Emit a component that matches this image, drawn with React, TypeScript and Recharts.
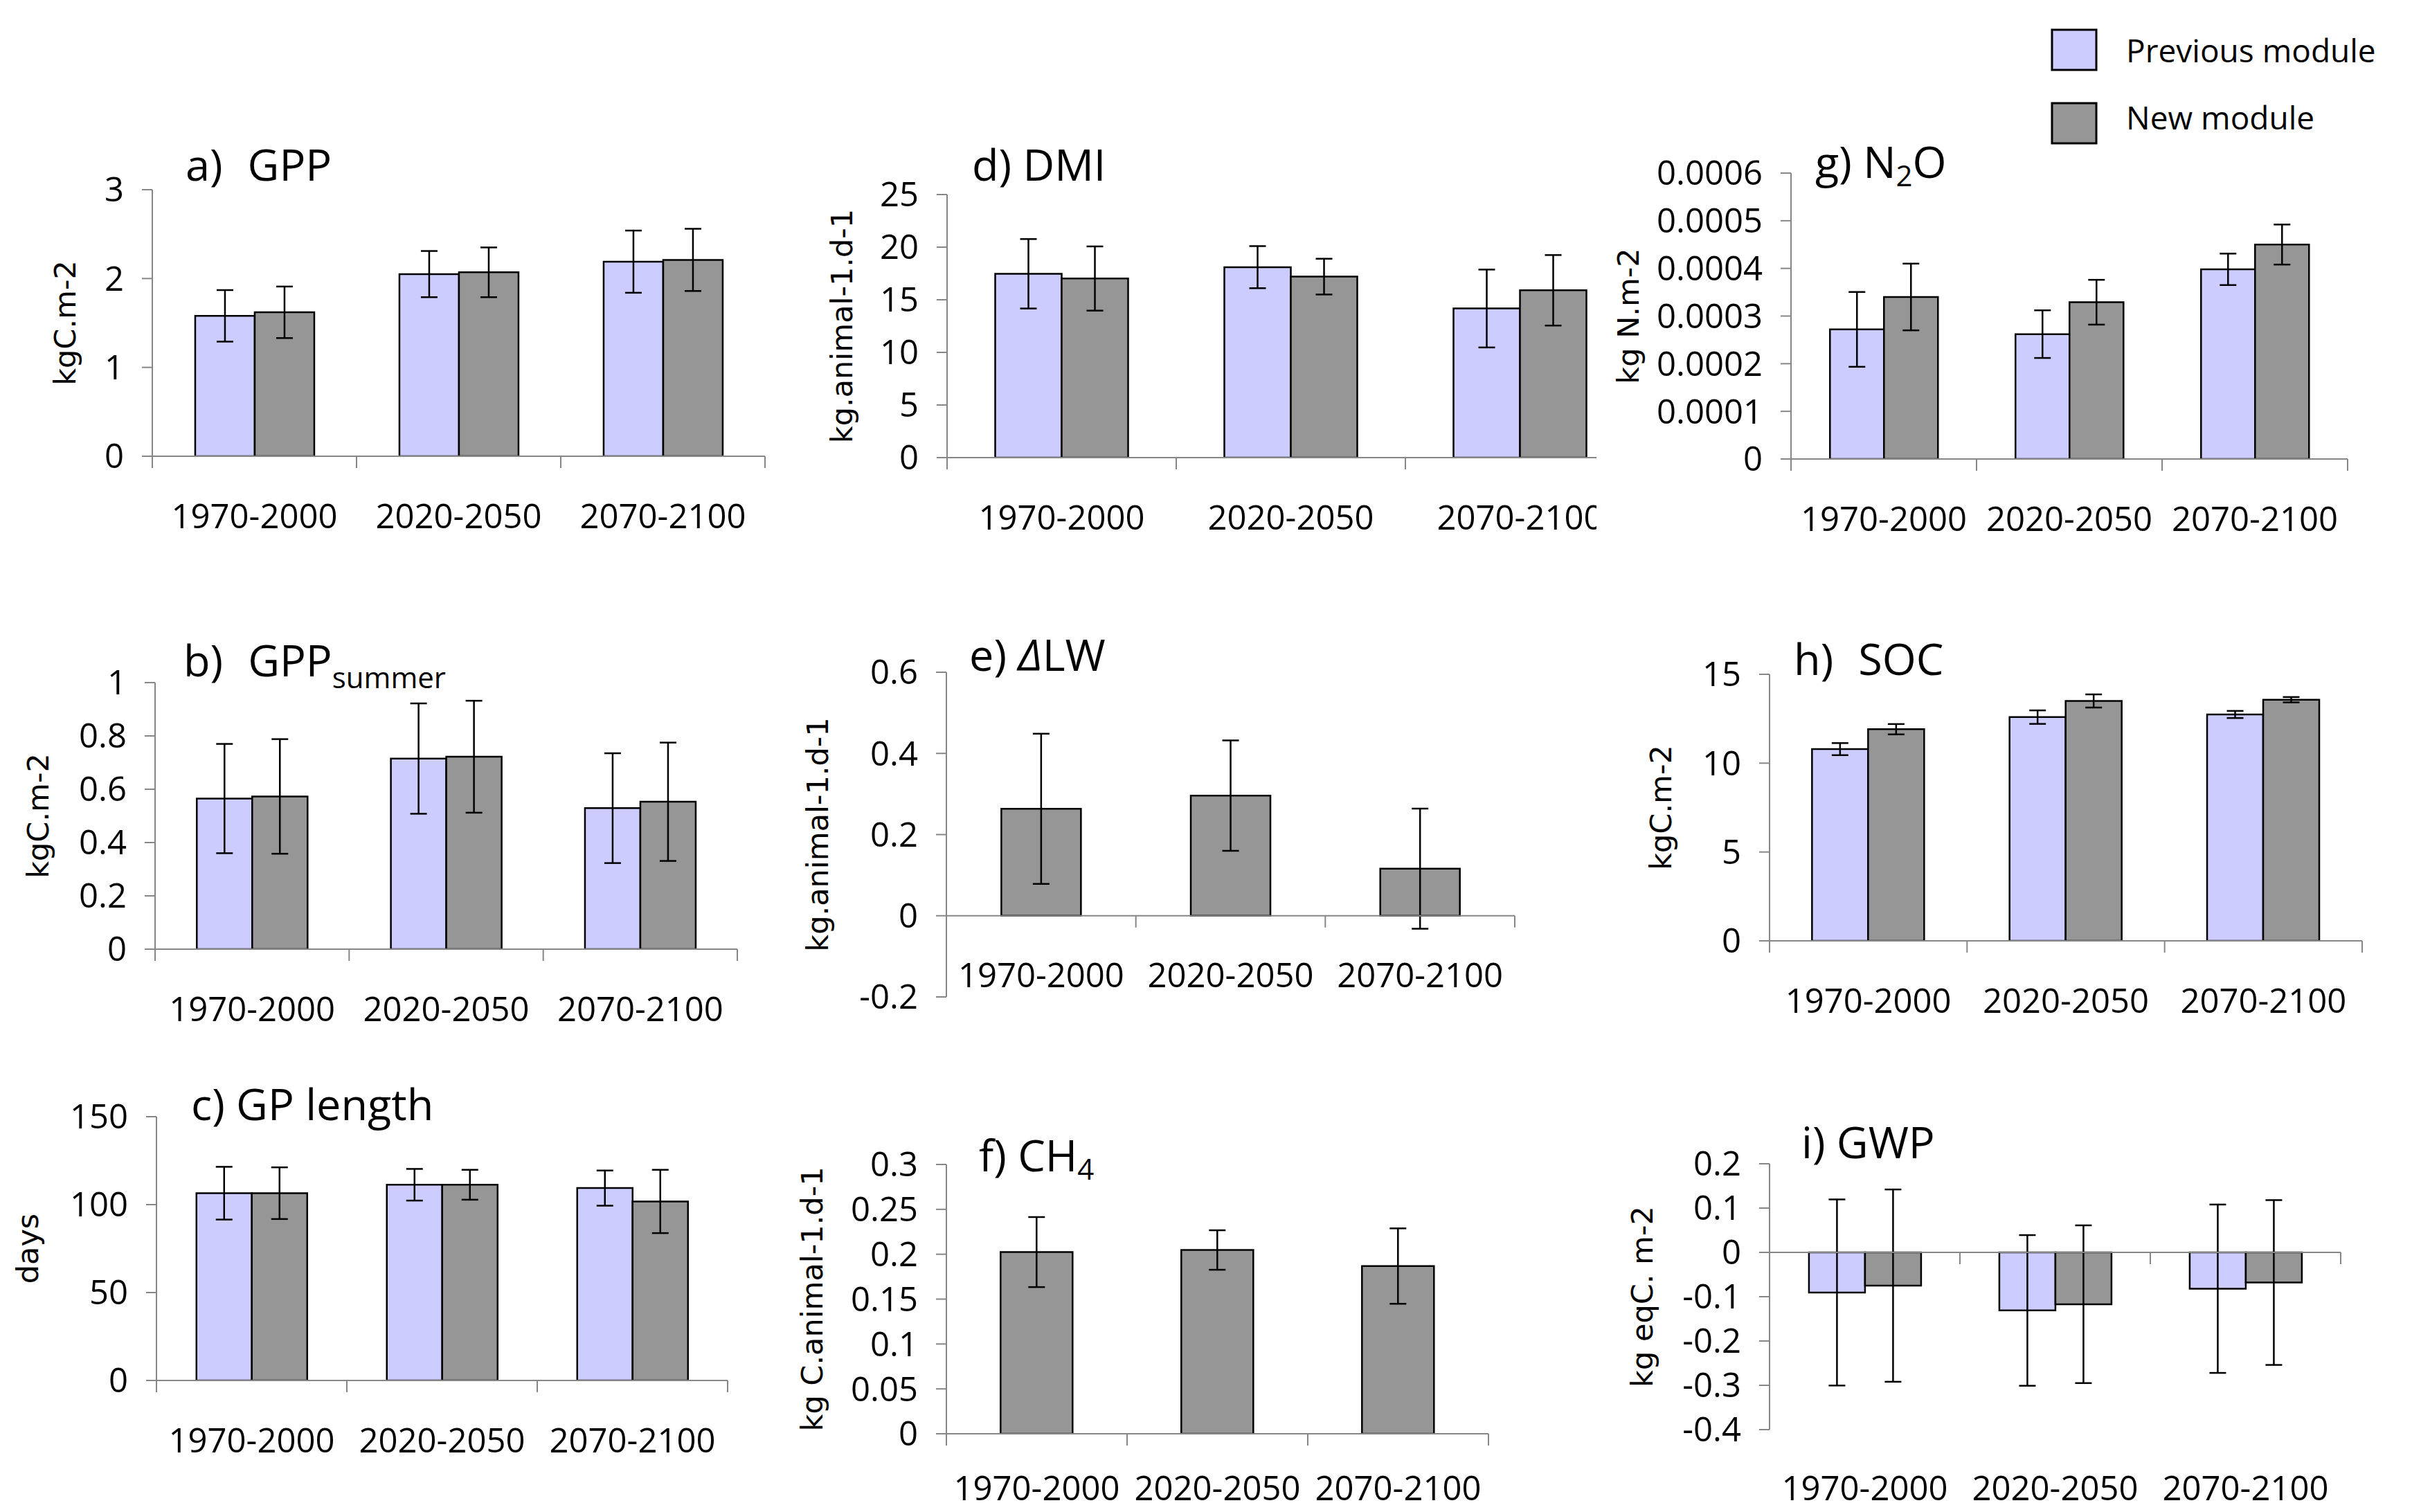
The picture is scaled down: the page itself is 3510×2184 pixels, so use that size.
import React from "react";
import { BarChart, Bar, XAxis, YAxis, ErrorBar, ReferenceLine } from "recharts";

const PERIODS = ["1970-2000", "2020-2050", "2070-2100"];
const SERIES_NAMES = ["Previous module", "New module"];

// a) GPP
const GPP_PREV = [1.58, 2.05, 2.19];
const GPP_PREV_ERR = [0.29, 0.26, 0.35];
const GPP_NEW = [1.62, 2.07, 2.21];
const GPP_NEW_ERR = [0.29, 0.28, 0.35];
const GPP_TICKS = [0, 1, 2, 3];

// b) GPP summer
const GPPS_PREV = [0.565, 0.715, 0.529];
const GPPS_PREV_ERR = [0.205, 0.207, 0.206];
const GPPS_NEW = [0.573, 0.722, 0.553];
const GPPS_NEW_ERR = [0.215, 0.21, 0.222];
const GPPS_TICKS = [0, 0.2, 0.4, 0.6, 0.8, 1];

// c) GP length
const GPL_PREV = [106.5, 111.3, 109.4];
const GPL_PREV_ERR = [15, 9, 10];
const GPL_NEW = [106.5, 111.3, 101.8];
const GPL_NEW_ERR = [14.7, 8.5, 18];
const GPL_TICKS = [0, 50, 100, 150];

// d) DMI
const DMI_PREV = [17.47, 18.1, 14.17];
const DMI_PREV_ERR = [3.3, 2.0, 3.7];
const DMI_NEW = [17.02, 17.2, 15.9];
const DMI_NEW_ERR = [3.05, 1.7, 3.35];
const DMI_TICKS = [0, 5, 10, 15, 20, 25];

// e) delta LW (new module only)
const DLW_NEW = [0.2635, 0.296, 0.116];
const DLW_NEW_ERR = [0.185, 0.136, 0.148];
const DLW_TICKS = [-0.2, 0, 0.2, 0.4, 0.6];

// f) CH4 (new module only)
const CH4_NEW = [0.2024, 0.2047, 0.1868];
const CH4_NEW_ERR = [0.039, 0.022, 0.042];
const CH4_TICKS = [0, 0.05, 0.1, 0.15, 0.2, 0.25, 0.3];

// g) N2O
const N2O_PREV = [0.000272, 0.000262, 0.000398];
const N2O_PREV_ERR = [0.0000785, 0.00005, 0.000033];
const N2O_NEW = [0.00034, 0.000329, 0.00045];
const N2O_NEW_ERR = [0.00007, 0.000047, 0.000042];
const N2O_TICKS = [0, 0.0001, 0.0002, 0.0003, 0.0004, 0.0005, 0.0006];

// h) SOC
const SOC_PREV = [10.79, 12.59, 12.74];
const SOC_PREV_ERR = [0.34, 0.38, 0.2];
const SOC_NEW = [11.91, 13.5, 13.57];
const SOC_NEW_ERR = [0.29, 0.37, 0.15];
const SOC_TICKS = [0, 5, 10, 15];

// i) GWP
const GWP_PREV = [-0.0905, -0.131, -0.082];
const GWP_PREV_ERR = [0.21, 0.17, 0.19];
const GWP_NEW = [-0.075, -0.117, -0.068];
const GWP_NEW_ERR = [0.217, 0.178, 0.186];
const GWP_TICKS = [-0.4, -0.3, -0.2, -0.1, 0, 0.1, 0.2];

const FONT = "'Open Sans', 'Liberation Sans', sans-serif";
const LABEL_FONT = "'DejaVu Sans', Verdana, sans-serif";
const AXIS = "#868686";
const PREV_FILL = "#CCCCFF";
const NEW_FILL = "#969696";
const YW_MAX = 280;
const MT = 50;
const MR = 20;
const XH = 160;
const TICK_FS = 49;

// plot boxes (axis origin / ends) for each panel, in page pixels
const PANELS = [
  { key: "a", unit: "kgC.m-2", prev: GPP_PREV, prevErr: GPP_PREV_ERR, nw: GPP_NEW, nwErr: GPP_NEW_ERR, ticks: GPP_TICKS, x0: 220, x1: 1105, yTop: 274, yBot: 659, labelCx: 94, gap: "21%" },
  { key: "b", unit: "kgC.m-2", prev: GPPS_PREV, prevErr: GPPS_PREV_ERR, nw: GPPS_NEW, nwErr: GPPS_NEW_ERR, ticks: GPPS_TICKS, x0: 224, x1: 1065, yTop: 986, yBot: 1371, labelCx: 55, gap: "21.5%" },
  { key: "c", unit: "days", prev: GPL_PREV, prevErr: GPL_PREV_ERR, nw: GPL_NEW, nwErr: GPL_NEW_ERR, ticks: GPL_TICKS, x0: 226, x1: 1051, yTop: 1613, yBot: 1994, labelCx: 40, gap: "21%" },
  { key: "d", unit: "kg.animal-1.d-1", prev: DMI_PREV, prevErr: DMI_PREV_ERR, nw: DMI_NEW, nwErr: DMI_NEW_ERR, ticks: DMI_TICKS, x0: 1368, x1: 2361, yTop: 281, yBot: 661, labelCx: 1216, gap: "21%", clipAt: 2306 },
  { key: "e", unit: "kg.animal-1.d-1", nw: DLW_NEW, nwErr: DLW_NEW_ERR, ticks: DLW_TICKS, x0: 1367, x1: 2188, yTop: 971, yBot: 1440, labelCx: 1181, gap: "29%" },
  { key: "f", unit: "kg C.animal-1.d-1", nw: CH4_NEW, nwErr: CH4_NEW_ERR, ticks: CH4_TICKS, x0: 1367, x1: 2150, yTop: 1682, yBot: 2071, labelCx: 1173, gap: "30%", labelGap: 78 },
  { key: "g", unit: "kg N.m-2", prev: N2O_PREV, prevErr: N2O_PREV_ERR, nw: N2O_NEW, nwErr: N2O_NEW_ERR, ticks: N2O_TICKS, x0: 2587, x1: 3391, yTop: 250, yBot: 663, labelCx: 2352, gap: "21%" },
  { key: "h", unit: "kgC.m-2", prev: SOC_PREV, prevErr: SOC_PREV_ERR, nw: SOC_NEW, nwErr: SOC_NEW_ERR, ticks: SOC_TICKS, x0: 2556, x1: 3412, yTop: 974, yBot: 1359, labelCx: 2399, gap: "21.5%" },
  { key: "i", unit: "kg eqC. m-2", prev: GWP_PREV, prevErr: GWP_PREV_ERR, nw: GWP_NEW, nwErr: GWP_NEW_ERR, ticks: GWP_TICKS, x0: 2556, x1: 3381, yTop: 1681, yBot: 2065, labelCx: 2372, gap: "20.7%", labelsAtBottom: true, labelGap: 84 },
];

const fmt = (v: number) => String(Number(v.toFixed(6)));

function Panel({ p }: { p: any }) {
  const rows = PERIODS.map((period, i) => ({
    period,
    prev: p.prev ? p.prev[i] : undefined,
    prevErr: p.prevErr ? p.prevErr[i] : undefined,
    nw: p.nw[i],
    nwErr: p.nwErr[i],
  }));
  const yw = Math.min(YW_MAX, p.x0 - 2);
  const plotW = p.x1 - p.x0;
  const plotH = p.yBot - p.yTop;
  const w = plotW + yw + MR;
  const h = plotH + MT + XH;
  const left = p.x0 - yw;
  const top = p.yTop - MT;
  const lo = p.ticks[0];
  const hi = p.ticks[p.ticks.length - 1];
  const zeroY = MT + (hi / (hi - lo)) * plotH;
  const gapBelow = p.labelGap ?? 86;
  const labelY = p.labelsAtBottom ? MT + plotH + gapBelow : zeroY + gapBelow;
  const bw = plotW / PERIODS.length;
  const lx = p.labelCx - left;
  const ly = MT + plotH / 2;

  // category labels + Excel style boundary tick marks
  const renderTick = (props: any) => {
    const { x, index, payload } = props;
    return (
      <g>
        <line x1={x - bw / 2} x2={x - bw / 2} y1={zeroY} y2={zeroY + 17} stroke={AXIS} strokeWidth={2} />
        {index === PERIODS.length - 1 && (
          <line x1={x + bw / 2} x2={x + bw / 2} y1={zeroY} y2={zeroY + 17} stroke={AXIS} strokeWidth={2} />
        )}
        <text x={x} y={labelY + 17.5} textAnchor="middle" fontFamily={FONT} fontSize={TICK_FS} fill="#000">
          {payload.value}
        </text>
      </g>
    );
  };

  return (
    <div
      style={{
        position: "absolute",
        left,
        top,
        width: p.clipAt ? p.clipAt - left : w,
        height: h,
        overflow: "hidden",
      }}
    >
      <BarChart
        width={w}
        height={h}
        data={rows}
        margin={{ top: MT, right: MR, bottom: 0, left: 0 }}
        barGap={0}
        barCategoryGap={p.gap}
      >
        <XAxis dataKey="period" height={XH} axisLine={false} tickLine={false} interval={0} tick={renderTick} />
        <YAxis
          type="number"
          domain={[lo, hi]}
          ticks={p.ticks}
          interval={0}
          allowDataOverflow
          width={yw}
          tickSize={15}
          tickMargin={26}
          axisLine={{ stroke: AXIS, strokeWidth: 2 }}
          tickLine={{ stroke: AXIS, strokeWidth: 2 }}
          tick={{ fill: "#000", fontSize: TICK_FS, fontFamily: FONT }}
          tickFormatter={fmt}
          label={{
            content: () => (
              <text
                x={lx}
                y={ly}
                transform={`rotate(-90 ${lx} ${ly})`}
                textAnchor="middle"
                dominantBaseline="central"
                fontFamily={LABEL_FONT}
                fontSize={43}
                fill="#000"
              >
                {p.unit}
              </text>
            ),
          }}
        />
        {p.prev && (
          <Bar dataKey="prev" name={SERIES_NAMES[0]} fill={PREV_FILL} stroke="#000" strokeWidth={2.5} isAnimationActive={false}>
            <ErrorBar dataKey="prevErr" direction="y" width={12} stroke="#000" strokeWidth={2.5} isAnimationActive={false} />
          </Bar>
        )}
        <Bar dataKey="nw" name={SERIES_NAMES[1]} fill={NEW_FILL} stroke="#000" strokeWidth={2.5} isAnimationActive={false}>
          <ErrorBar dataKey="nwErr" direction="y" width={12} stroke="#000" strokeWidth={2.5} isAnimationActive={false} />
        </Bar>
        <ReferenceLine y={0} stroke={AXIS} strokeWidth={2} />
      </BarChart>
    </div>
  );
}

const TITLE_FS = 63;
const SUB_FS = 42;

export default function App() {
  return (
    <div style={{ position: "absolute", left: 0, top: 0, width: 3510, height: 2184, background: "#fff", overflow: "hidden" }}>
      {PANELS.map((p) => (
        <Panel key={p.key} p={p} />
      ))}
      <svg width={3510} height={2184} style={{ position: "absolute", left: 0, top: 0, pointerEvents: "none" }}>
        <g fontFamily={FONT} fontSize={TITLE_FS} fill="#000">
          <text x={268} y={261}>
            a)<tspan dx={36}>GPP</tspan>
          </text>
          <text x={265} y={977}>
            b)<tspan dx={36}>GPP</tspan>
            <tspan fontSize={SUB_FS} dy={17}>summer</tspan>
          </text>
          <text x={276} y={1618}>c) GP length</text>
          <text x={1404} y={261}>d) DMI</text>
          <text x={1400} y={969}>
            e) <tspan fontStyle="italic">Δ</tspan>LW
          </text>
          <text x={1414} y={1692}>
            f) CH<tspan fontSize={SUB_FS} dy={12}>4</tspan>
          </text>
          <text x={2622} y={257}>
            g) N<tspan fontSize={SUB_FS} dy={12}>2</tspan>
            <tspan dy={-12}>O</tspan>
          </text>
          <text x={2591} y={975}>
            h)<tspan dx={36}>SOC</tspan>
          </text>
          <text x={2602} y={1673}>i) GWP</text>
        </g>
        <g fontFamily={FONT} fontSize={46} fill="#000">
          {SERIES_NAMES.map((name, i) => (
            <g key={name}>
              <rect
                x={2964}
                y={i === 0 ? 43 : 149}
                width={64}
                height={58}
                fill={i === 0 ? PREV_FILL : NEW_FILL}
                stroke="#000"
                strokeWidth={3}
              />
              <text x={3071} y={i === 0 ? 90 : 187}>
                {name}
              </text>
            </g>
          ))}
        </g>
      </svg>
    </div>
  );
}
